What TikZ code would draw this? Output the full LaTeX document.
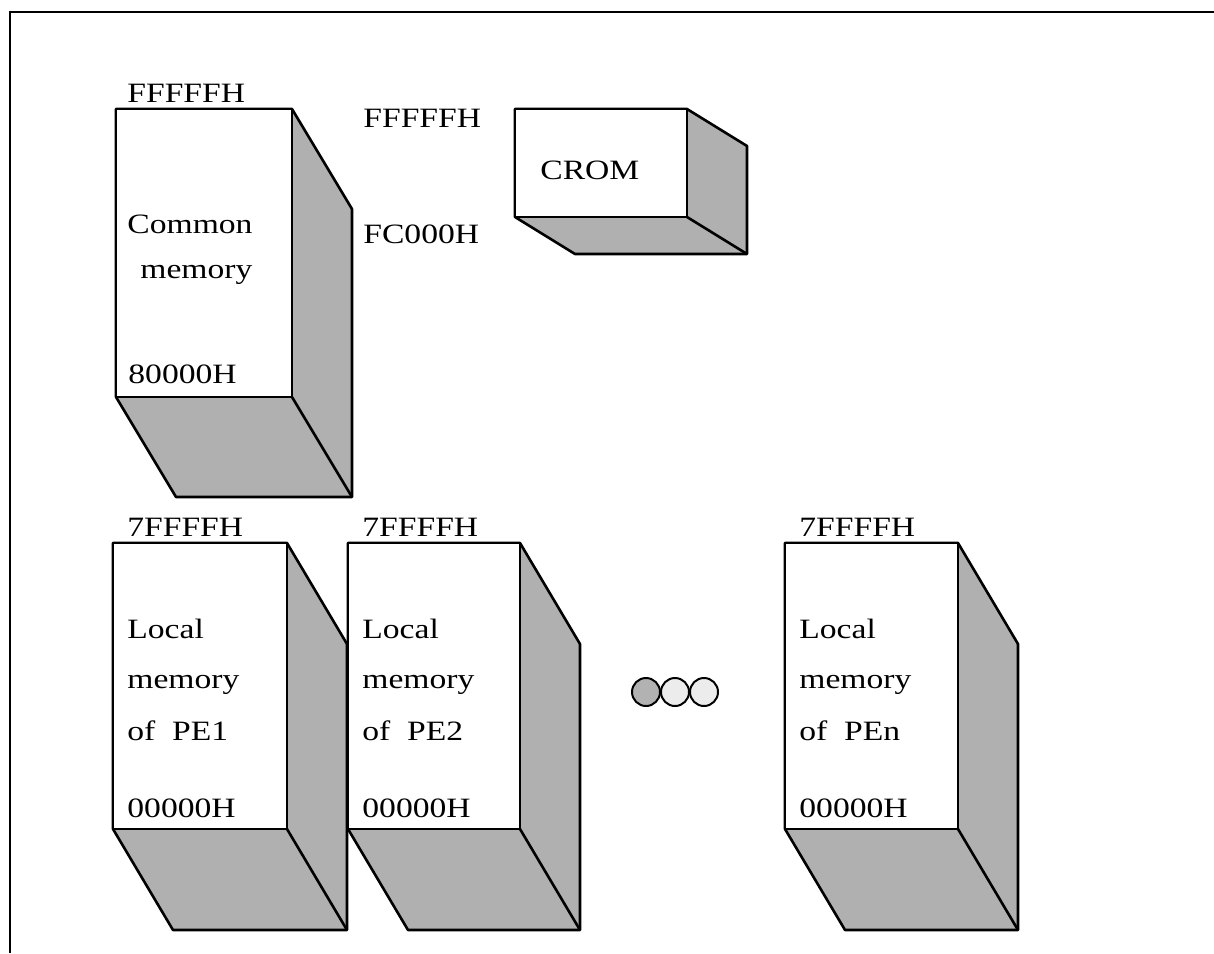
\documentclass[tikz,border=0pt]{standalone}
\usepackage{fontspec}
\setmainfont{Liberation Serif}[FakeStretch=1.2]

% memory block seen in perspective: front (x1,y1)-(x2,y2), depth (dx,dy)
\newcommand{\memblock}[6]{%
  \draw[side] (#1,#2) -- (#3,#2) -- (#3+#5,#2+#6) -- (#3+#5,#4+#6)
    -- (#1+#5,#4+#6) -- (#1,#4) -- cycle;
  \draw[front] (#1,#2) rectangle (#3,#4);
  \draw[side] (#3,#4) -- (#3+#5,#4+#6);
}

\begin{document}
\begin{tikzpicture}[x=0.5pt,y=-0.5pt,
  front/.style={draw, line width=1.3pt, fill=white, line join=round},
  side/.style={draw, line width=1.3pt, fill=gray!62, line join=round},
  lbl/.style={anchor=base west, inner sep=0pt, font=\fontsize{14}{16}\selectfont},
  dot/.style={circle, draw, line width=1pt, minimum size=14pt, inner sep=0pt}]

\useasboundingbox (0,0) rectangle (1214,953);

% frame
\draw[line width=1.1pt] (10,953) -- (10,12) -- (1214,12);

% common memory
\memblock{116}{109}{292}{397}{60}{100}
\node[lbl] (cmhi) at (127,102) {FFFFFH};
\node[lbl] (cmname) at (127,233) {Common};
\node[lbl] (cmname2) at (140,278) {memory};
\node[lbl] (cmlo) at (128,383) {80000H};

% CROM
\memblock{515}{109}{687}{217}{60}{37}
\node[lbl] (crhi) at (363,127) {FFFFFH};
\node[lbl] (crlo) at (363,243) {FC000H};
\node[lbl] (crname) at (540,179) {CROM};

% local memories
\foreach \l/\r/\pe in {113/287/1, 348/520/2, 785/958/n} {
  \memblock{\l}{543}{\r}{829}{60}{101}
  \node[lbl] (hi\pe) at (\l+14,536) {7FFFFH};
  \node[lbl] (loc\pe) at (\l+14,638) {Local};
  \node[lbl] (mem\pe) at (\l+14,688) {memory};
  \node[lbl] (of\pe) at (\l+14,740) {of\ \ PE\pe};
  \node[lbl] (lo\pe) at (\l+14,817) {00000H};
}

% dots
\node[dot, fill=gray!60] (dot1) at (646,692) {};
\node[dot, fill=gray!15] (dot2) at (675,692) {};
\node[dot, fill=gray!15] (dot3) at (704,692) {};

\end{tikzpicture}
\end{document}
